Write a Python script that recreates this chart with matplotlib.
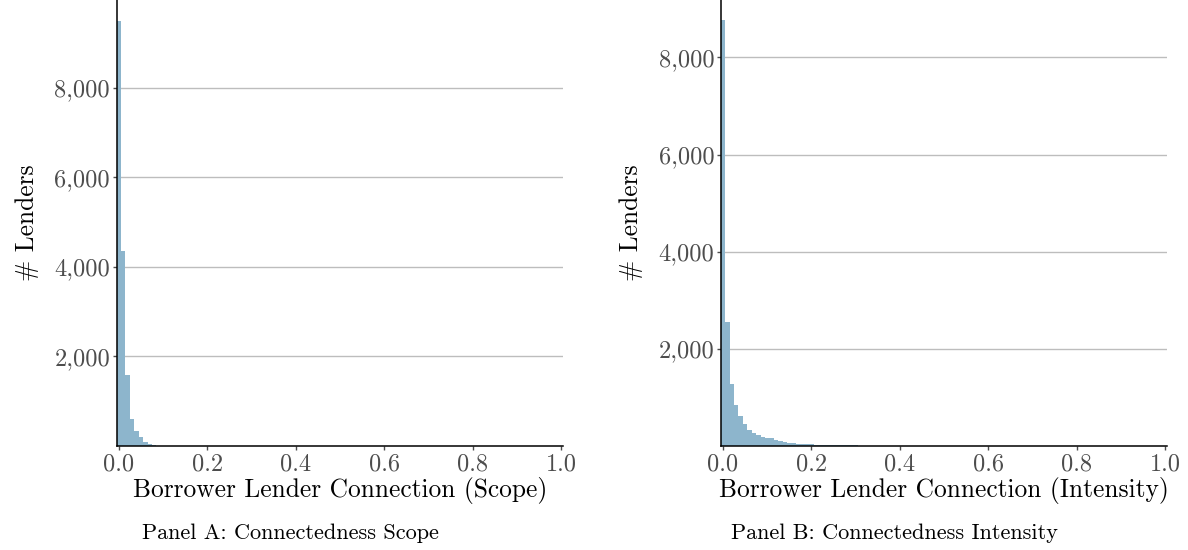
import matplotlib
matplotlib.use('Agg')
import matplotlib.pyplot as plt
import numpy as np
from matplotlib.ticker import FuncFormatter

plt.rcParams['font.family'] = 'serif'
plt.rcParams['font.serif'] = ['cmr10', 'DejaVu Serif']
plt.rcParams['mathtext.fontset'] = 'cm'
plt.rcParams['axes.formatter.use_mathtext'] = True

# histogram counts, bins of width 0.01 centred on 0.00, 0.01, 0.02, ...
bin_width = 0.01
scope_counts = [9480, 4360, 1590, 610, 345, 195, 90, 35, 25, 12, 8, 5, 3, 2]
intensity_counts = [8763, 2557, 1285, 838, 619, 447, 335, 272, 222, 184, 170, 156,
                    117, 96, 82, 70, 58, 50, 42, 36, 32, 28, 24, 22, 20, 18, 16,
                    15, 14, 13, 12, 11, 10, 9, 8, 7, 6, 5, 4, 3, 2]

panels = [
    (scope_counts, 'Borrower Lender Connection (Scope)', 'Panel A: Connectedness Scope', 9960),
    (intensity_counts, 'Borrower Lender Connection (Intensity)', 'Panel B: Connectedness Intensity', 9180),
]
x_ticks = [0.0, 0.2, 0.4, 0.6, 0.8, 1.0]
y_ticks = [2000, 4000, 6000, 8000]

bar_color = '#8DB5CC'
tick_color = '#4D4D4D'

fig = plt.figure(figsize=(11.88, 5.5), dpi=100)
lefts = [0.0985, 0.607]

for left, (counts, xlab, title, ytop) in zip(lefts, panels):
    ax = fig.add_axes([left, 0.189, 0.3755, 0.811])
    centers = np.arange(len(counts)) * bin_width
    ax.bar(centers, counts, width=bin_width, color=bar_color, linewidth=0, zorder=2)

    ax.set_xlim(-0.004, 1.004)
    ax.set_ylim(0, ytop)
    ax.set_xticks(x_ticks)
    ax.set_xticklabels([f'{v:.1f}' for v in x_ticks])
    ax.set_yticks(y_ticks)
    ax.yaxis.set_major_formatter(FuncFormatter(lambda v, p: f'{int(v):,}'))

    ax.grid(axis='y', color='#BDBDBD', linewidth=1.0, zorder=0)
    ax.set_axisbelow(True)
    for side in ['top', 'right']:
        ax.spines[side].set_visible(False)
    for side in ['left', 'bottom']:
        ax.spines[side].set_color('black')
        ax.spines[side].set_linewidth(1.1)

    ax.tick_params(axis='both', labelsize=17.5, colors=tick_color, labelcolor=tick_color,
                   length=3, width=1, pad=2)
    ax.set_xlabel(xlab, fontsize=18.3, color='black', labelpad=1)
    ax.set_ylabel('# Lenders', fontsize=18.3, color='black', labelpad=11)

    fig.text(left + 0.3755 / 2 - 0.042, 0.03, title, ha='center', va='center', fontsize=16)

fig.savefig('out.png', dpi=100)
